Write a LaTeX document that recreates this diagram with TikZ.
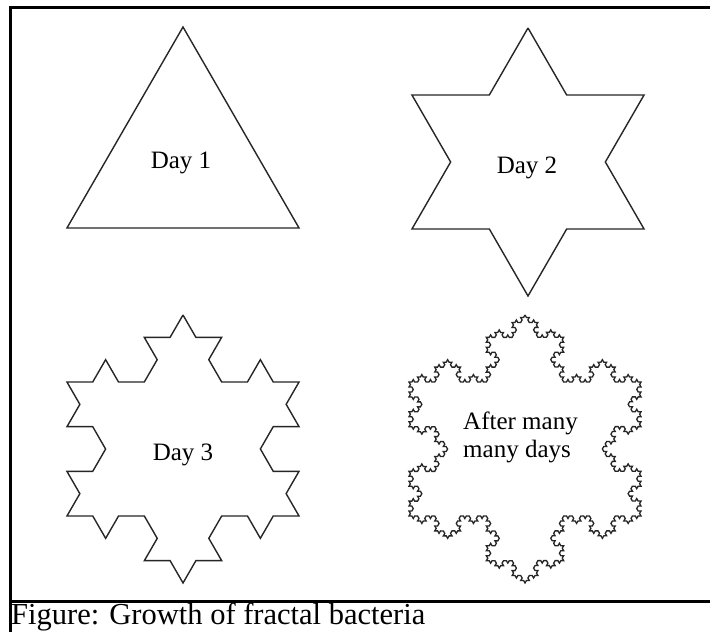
\documentclass[tikz,border=0pt]{standalone}
\usepackage{fontspec}
\setmainfont{Liberation Serif}
\usetikzlibrary{decorations.fractals}
\begin{document}
\begin{tikzpicture}[x=1pt,y=-1pt,
  shapeline/.style={draw=black!85,line width=1.4pt,line join=miter},
  frameline/.style={draw=black,line width=3pt},
  lbl/.style={font=\fontsize{25}{28}\selectfont,inner sep=0pt},
  koch/.style={decoration=Koch snowflake}]
\useasboundingbox (0,0) rectangle (710,632);
\fill[white] (0,0) rectangle (710,632);
% frame
\coordinate (fbl) at (10,640);
\coordinate (ftl) at (10,7);
\coordinate (ftr) at (720,7);
\coordinate (sl) at (10,601);
\coordinate (sr) at (720,601);
\draw[frameline] (fbl) -- (ftl) -- (ftr);
\draw[frameline] (sl) -- (sr);
% Day 1 triangle
\coordinate (a1) at (183,27);
\coordinate (b1) at (299.04,228);
\coordinate (c1) at (66.96,228);
\draw[shapeline] (a1) -- (b1) -- (c1) -- cycle;
% Day 2 hexagram
\coordinate (a2) at (528,28);
\coordinate (b2) at (644.04,229);
\coordinate (c2) at (411.96,229);
\draw[shapeline,koch] decorate{(a2) -- (b2) -- (c2) -- (a2)};
% Day 3
\coordinate (a3) at (183,315);
\coordinate (b3) at (299.04,516);
\coordinate (c3) at (66.96,516);
\draw[shapeline,koch] decorate{decorate{(a3) -- (b3) -- (c3) -- (a3)}};
% many days
\coordinate (a4) at (525,315);
\coordinate (b4) at (641.04,516);
\coordinate (c4) at (408.96,516);
\draw[shapeline,line width=1.3pt,koch] decorate{decorate{decorate{decorate{(a4) -- (b4) -- (c4) -- (a4)}}}};
% labels
\node[lbl] (t1) at (181,163) {Day 1};
\node[lbl] (t2) at (527,168) {Day 2};
\node[lbl] (t3) at (183,455) {Day 3};
\node[lbl,align=left,anchor=north west] (t4) at (463,412) {After many\\many days};
\node[font=\fontsize{30.5}{32}\selectfont,inner sep=0pt,anchor=base west] (cap) at (11,624.5) {Figure: Growth of fractal bacteria};
\end{tikzpicture}
\end{document}
